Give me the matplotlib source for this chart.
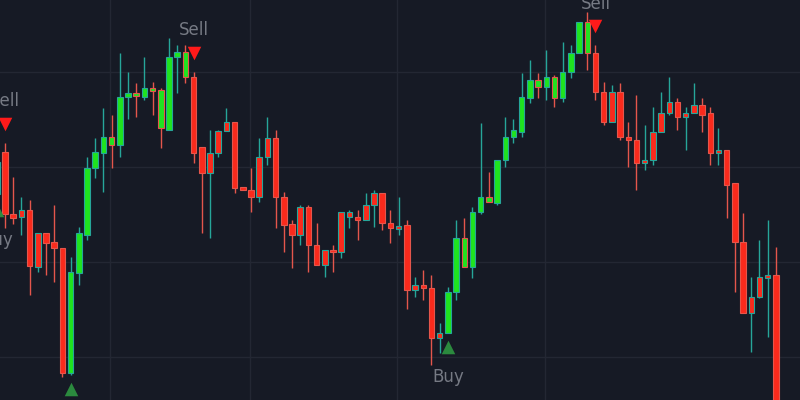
import numpy as np
import matplotlib
matplotlib.use("Agg")
import matplotlib.pyplot as plt

# OHLC (first candle sits just left of the visible area)
opens = [117.2, 121.6, 115.0, 114.7, 115.5, 109.5, 113.0, 112.1, 111.5, 98.3,
         108.8, 112.8, 119.9, 121.5, 123.2, 122.3, 127.4, 127.8, 127.4, 128.3,
         128.1, 123.9, 131.6, 132.1, 129.5, 122.1, 119.4, 121.5, 123.8, 124.7,
         117.8, 117.6, 116.8, 121.1, 123.1, 116.8, 114.0, 112.8, 115.8, 111.8,
         109.7, 111.3, 111.0, 114.7, 114.7, 114.4, 116.0, 117.3, 114.1, 113.5,
         113.9, 107.1, 107.6, 107.3, 102.0, 102.5, 106.8, 112.5, 109.5, 115.3,
         116.8, 116.2, 120.7, 123.2, 123.7, 127.3, 129.2, 128.4, 129.5, 127.3,
         130.0, 132.0, 135.3, 132.0, 127.9, 124.7, 127.9, 123.2, 122.8, 120.4,
         120.7, 123.7, 125.7, 126.8, 125.3, 125.7, 126.5, 125.7, 121.5, 121.8,
         118.3, 112.1, 104.6, 106.3, 108.3, 108.6]
highs = [121.0, 122.5, 118.9, 116.8, 116.5, 113.0, 113.0, 116.0, 111.5, 110.5,
         113.7, 121.1, 123.1, 126.2, 125.5, 132.0, 130.0, 128.8, 131.6, 128.9,
         128.3, 133.6, 132.8, 132.8, 130.0, 122.1, 123.9, 123.9, 126.2, 124.7,
         117.8, 119.9, 123.1, 125.3, 123.9, 117.4, 114.4, 116.0, 116.0, 114.1,
         111.3, 111.8, 115.3, 115.5, 115.5, 117.3, 117.6, 117.3, 115.5, 116.8,
         114.4, 108.4, 109.2, 108.6, 103.6, 107.4, 114.4, 114.6, 115.8, 124.6,
         119.5, 120.7, 125.3, 125.0, 129.9, 131.3, 129.9, 132.3, 129.7, 133.2,
         132.8, 135.3, 136.3, 132.8, 128.9, 128.6, 128.8, 124.7, 127.6, 124.4,
         126.3, 127.9, 129.5, 127.3, 126.3, 128.8, 127.3, 126.3, 124.1, 121.8,
         118.3, 115.2, 108.4, 112.3, 114.4, 111.6]
lows = [116.9, 113.6, 114.0, 112.8, 106.5, 108.9, 108.6, 107.9, 97.9, 98.1,
        107.6, 112.3, 118.8, 117.4, 119.9, 121.1, 125.0, 125.3, 127.1, 125.5,
        122.0, 123.9, 127.8, 128.8, 120.4, 113.0, 112.5, 121.1, 123.8, 117.3,
        117.6, 115.3, 116.3, 120.2, 113.6, 111.1, 109.4, 111.8, 108.9, 109.7,
        108.4, 108.9, 110.4, 113.6, 112.3, 114.4, 113.7, 113.4, 112.0, 112.8,
        105.0, 106.3, 106.0, 99.2, 100.4, 102.5, 106.0, 109.5, 108.3, 115.0,
        116.3, 116.0, 120.0, 122.5, 123.2, 126.7, 127.3, 127.1, 126.3, 126.8,
        129.4, 132.0, 130.2, 127.1, 124.4, 124.7, 122.8, 120.0, 117.6, 119.7,
        120.2, 123.7, 125.5, 123.9, 121.8, 125.7, 123.7, 120.2, 120.2, 114.6,
        106.8, 104.6, 100.5, 106.2, 102.1, 93.0]
closes = [120.5, 115.0, 114.6, 115.5, 109.6, 113.0, 112.0, 111.5, 98.3, 108.9,
          113.0, 119.9, 121.6, 123.2, 122.3, 127.4, 127.8, 127.5, 128.3, 128.0,
          124.1, 131.6, 132.1, 129.5, 121.5, 119.4, 121.5, 123.8, 124.7, 117.8,
          117.6, 116.8, 121.1, 123.1, 116.8, 113.9, 112.8, 115.8, 111.8, 109.7,
          111.3, 111.0, 115.3, 115.3, 114.4, 116.0, 117.3, 114.1, 113.6, 113.7,
          107.1, 107.6, 107.3, 102.0, 102.5, 106.8, 112.5, 109.5, 115.3, 116.8,
          116.3, 120.7, 123.2, 123.9, 127.4, 129.2, 128.4, 129.5, 127.3, 130.0,
          132.0, 135.3, 132.0, 127.9, 124.7, 127.9, 123.2, 122.8, 120.4, 120.7,
          123.7, 125.7, 126.8, 125.3, 125.7, 126.5, 125.5, 121.5, 121.8, 118.1,
          112.1, 104.6, 106.3, 108.4, 108.6, 93.4]
# trend signal used to paint the bodies (g = bullish, r = bearish)
trend = ("g" "rrrrrrrr" "ggggggggggggggg" "rrrrrrrrrrrrrrrrrrrrrrrrrrrrrrr"
         "gggggggggggggggggg" "rrrrrrrrrrrrrrrrrrrrrrr")

BG = "#161a25"
GRID = "#232733"
GREEN = "#1fe31f"
RED = "#fa2a1c"
TEAL = "#26a69a"
RED_EDGE = "#e4564c"
TXT = "#767a84"

o = np.array(opens)
h = np.array(highs)
l = np.array(lows)
c = np.array(closes)
x = np.arange(len(o))

fig = plt.figure(figsize=(8, 4), dpi=100, facecolor=BG)
ax = fig.add_axes([0, 0, 1, 1])
ax.set_facecolor(BG)

ymin, ymax = 95.47, 137.58

edge = np.where(c >= o, TEAL, RED_EDGE)
fill = [GREEN if t == "g" else RED for t in trend]

ax.vlines(x, l, h, colors=edge, linewidth=1.0, zorder=2)
ax.bar(x, np.maximum(np.abs(c - o), 0.25), bottom=np.minimum(o, c), width=0.66,
       color=fill, edgecolor=edge, linewidth=0.8, zorder=3)

buys = [i for i in range(len(trend)) if trend[i] == "g" and (i == 0 or trend[i - 1] == "r")]
sells = [i for i in range(1, len(trend)) if trend[i] == "r" and trend[i - 1] == "g"]

ax.scatter(buys, l[buys] - 1.45, marker="^", s=95, color="#2b8a3e", linewidths=0, zorder=4)
ax.scatter(sells, h[sells] + 2.0, marker="v", s=95, color="#ff1a1a", linewidths=0, zorder=4)
for i in buys:
    if l[i] - 4.6 - 0.8 > ymin:  # label only when it falls inside the view
        ax.text(i, l[i] - 4.6, "Buy", ha="center", va="center", color=TXT, fontsize=12)
for i in sells:
    ax.text(i, h[i] + 4.4, "Sell", ha="center", va="center", color=TXT, fontsize=12)

ax.set_xlim(0.39, 97.95)
ax.set_ylim(ymin, ymax)
ax.set_yticks([100, 110, 120, 130])
ax.set_xticks([13.8, 30.9, 48.8, 66.9])
ax.grid(True, color=GRID, linewidth=1.0)
ax.set_axisbelow(True)
ax.tick_params(length=0, labelbottom=False, labelleft=False)
for s in ax.spines.values():
    s.set_visible(False)

fig.savefig("out.png", dpi=100, facecolor=BG)
